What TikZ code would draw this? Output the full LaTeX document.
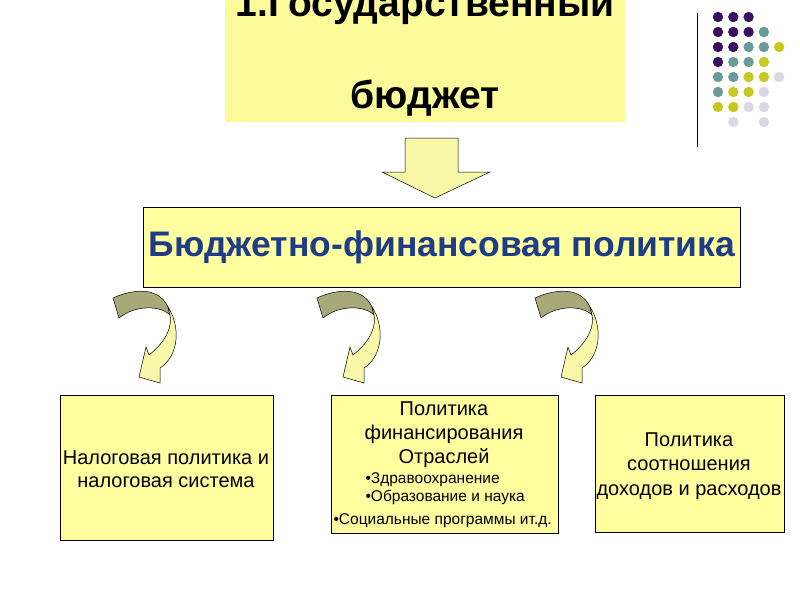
\documentclass[tikz,border=0pt]{standalone}
\usepackage{fontspec}
\setmainfont{Liberation Sans}
\definecolor{byel}{HTML}{FFFFA0}
\definecolor{tyel}{HTML}{FBFB9C}
\definecolor{olv}{HTML}{A8A878}
\definecolor{ayel}{HTML}{F8F8A8}
\definecolor{dblue}{HTML}{1F3C88}
\definecolor{dP}{HTML}{3A1060}
\definecolor{dT}{HTML}{6A9A9A}
\definecolor{dY}{HTML}{C8C820}
\definecolor{dG}{HTML}{D8D8E4}
\tikzset{
 box/.style={draw=black,fill=byel,line width=0.8pt,align=center,inner sep=2pt},
 curvarrow/.pic={
  \fill[olv,draw=black,line width=0.5pt] (113,298) .. controls (130,290) and (158,285) .. (168,307) -- (170,315) .. controls (160,305) and (135,305) .. (119,318) -- cycle;
  \fill[ayel,draw=black,line width=0.5pt] (168,307) .. controls (180,325) and (180,355) .. (160,368) -- (160,383) -- (139,377) -- (146,347) -- (149,355) .. controls (168,340) and (172,325) .. (170,315) -- cycle;
 }
}
\begin{document}
\begin{tikzpicture}[x=1pt,y=-1pt]
\useasboundingbox (0,0) rectangle (800,600);
\fill[white] (0,0) rectangle (800,600);
% top box
\node[fill=tyel,minimum width=400,minimum height=122,anchor=north west,inner sep=0] (top) at (225,0) {};
\begin{scope}
\clip (0,0) rectangle (800,600);
\node[font=\bfseries\fontsize{39}{39}\selectfont] (t1) at (425,6) {1.Государственный};
\end{scope}
\node[font=\bfseries\fontsize{39}{39}\selectfont] (t2) at (425,98) {бюджет};
% down arrow
\draw[fill=ayel,line width=0.5pt] (405,138) -- (458,138) -- (458,172) -- (490,172) -- (435,198) -- (382,172) -- (405,172) -- cycle;
% middle box
\node[box,minimum width=597,minimum height=80,anchor=north west] (mid) at (143,207) {};
\node[font=\bfseries\fontsize{35.5}{36}\selectfont,text=dblue] (midt) at (442,247) {Бюджетно-финансовая политика};
% curved arrows
\pic at (0,0) {curvarrow};
\pic at (204,0) {curvarrow};
\pic at (422,0) {curvarrow};
% bottom boxes
\node[box,minimum width=213,minimum height=145,anchor=north west] (b1) at (60,395) {};
\node[font=\fontsize{20}{23}\selectfont,align=center] (b1t) at (166,469) {Налоговая политика и\\налоговая система};
\node[box,minimum width=227,minimum height=138,anchor=north west] (b2) at (331,395) {};
\node[font=\fontsize{20}{24}\selectfont,align=center] (b2t) at (444,435) {Политика\\финансирования\\Отраслей};
\node[font=\fontsize{15.5}{18}\selectfont,align=left,anchor=north west] (b2b) at (362,469) {•Здравоохранение\\•Образование и наука};
\node[font=\fontsize{15.5}{16}\selectfont,anchor=west] (b2c) at (330,521) {•Социальные программы ит.д.};
\node[box,minimum width=189,minimum height=137,anchor=north west] (b3) at (595,395) {};
\node[font=\fontsize{20}{24.5}\selectfont,align=center] (b3t) at (689,466) {Политика\\соотношения\\доходов и расходов};
% decoration
\draw[line width=0.8pt] (697,13) -- (697,147);
\foreach \c/\x/\y in {
 dP/0/0,dP/1/0,dP/2/0,
 dP/0/1,dP/1/1,dP/2/1,dT/3/1,
 dP/0/2,dP/1/2,dT/2/2,dT/3/2,dY/4/2,
 dP/0/3,dT/1/3,dT/2/3,dY/3/3,
 dT/0/4,dT/1/4,dY/2/4,dY/3/4,dG/4/4,
 dT/0/5,dY/1/5,dY/2/5,dG/3/5,
 dY/0/6,dY/1/6,dG/2/6,dG/3/6,
 dG/1/7,dG/3/7}
 \fill[\c] (718+15.3*\x,17+15*\y) circle (5.2);
\end{tikzpicture}
\end{document}
